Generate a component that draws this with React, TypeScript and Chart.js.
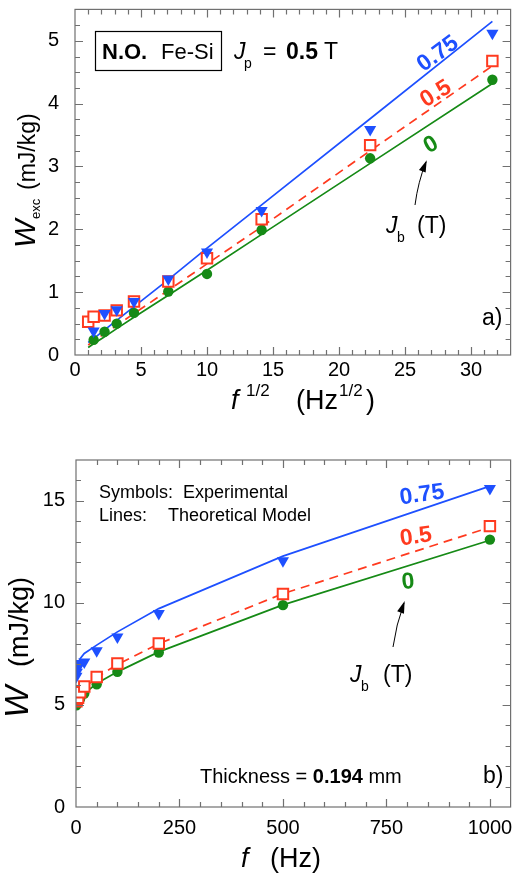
import React, { useEffect, useRef } from "react";
import { Chart, registerables } from "chart.js";

Chart.register(...registerables);

const FONT = "'Liberation Sans', Arial, sans-serif";
const GREEN = "#168a16";
const RED = "#ff3a1f";
const BLUE = "#1e50ff";

// ---------- data: panel a) W_exc vs sqrt(f) ----------
const sqrtFreq = [1, 1.41, 2.24, 3.16, 4.47, 7.07, 10, 14.14, 22.36, 31.62];
const wexcExpJb0 = [null, 0.24, 0.37, 0.5, 0.67, 1.01, 1.29, 1.99, 3.13, 4.38];
const wexcExpJb05 = [0.53, 0.61, 0.63, 0.71, 0.85, 1.17, 1.54, 2.16, 3.34, 4.68];
const wexcExpJb075 = [null, 0.38, 0.66, 0.72, 0.85, 1.21, 1.64, 2.3, 3.59, 5.12];
const wexcModJb0 = [0.12, 0.18, 0.29, 0.42, 0.6, 0.95, 1.35, 1.92, 3.05, 4.32];
const wexcModJb05 = [0.16, 0.22, 0.34, 0.47, 0.66, 1.03, 1.45, 2.04, 3.25, 4.6];
const wexcModJb075 = [0.2, 0.26, 0.4, 0.55, 0.77, 1.2, 1.7, 2.39, 3.76, 5.31];
const xTicksA = [0, 5, 10, 15, 20, 25, 30];
const yTicksA = [0, 1, 2, 3, 4, 5];

// ---------- data: panel b) W vs f ----------
const freqHz = [1, 2, 5, 10, 20, 50, 100, 200, 500, 1000];
const wExpJb0 = [4.98, 5.05, 5.15, 5.3, 5.56, 6.01, 6.62, 7.57, 9.89, 13.1];
const wExpJb05 = [5.18, 5.25, 5.35, 5.62, 5.9, 6.37, 7.03, 8.01, 10.43, 13.76];
const wExpJb075 = [6.4, 6.6, 6.85, 7.03, 7.1, 7.65, 8.33, 9.48, 12.06, 15.6];
const wModJb0 = [4.98, 5.05, 5.15, 5.3, 5.55, 6.05, 6.62, 7.6, 9.9, 13.07];
const wModJb05 = [5.2, 5.28, 5.4, 5.6, 5.85, 6.35, 6.98, 8.0, 10.45, 13.7];
const wModJb075 = [6.46, 6.62, 6.95, 7.27, 7.52, 7.93, 8.58, 9.72, 12.29, 15.72];
const xTicksB = [0, 250, 500, 750, 1000];
const yTicksB = [0, 5, 10, 15];

function pts(xs: number[], ys: (number | null)[]) {
  const out: { x: number; y: number }[] = [];
  xs.forEach((x, i) => {
    const y = ys[i];
    if (y !== null && y !== undefined) out.push({ x, y });
  });
  return out;
}

function datasets(xs: number[], e0: any[], e05: any[], e075: any[], m0: any[], m05: any[], m075: any[]) {
  const line = (data: any, color: string, dash: number[]) => ({
    data,
    showLine: true,
    borderColor: color,
    borderWidth: 1.7,
    borderDash: dash,
    pointRadius: 0,
    fill: false,
    order: 10,
  });
  return [
    line(pts(xs, m0), GREEN, []),
    line(pts(xs, m05), RED, [9, 6]),
    line(pts(xs, m075), BLUE, []),
    {
      data: pts(xs, e0),
      pointStyle: "circle",
      pointRadius: 5.2,
      backgroundColor: GREEN,
      borderColor: GREEN,
      borderWidth: 0,
      order: 3,
    },
    {
      data: pts(xs, e05),
      pointStyle: "rect",
      pointRadius: 7.4,
      backgroundColor: "#ffffff",
      borderColor: RED,
      borderWidth: 2,
      order: 2,
    },
    {
      data: pts(xs, e075),
      pointStyle: "triangle",
      rotation: 180,
      pointRadius: 7,
      backgroundColor: BLUE,
      borderColor: BLUE,
      borderWidth: 0,
      order: 1,
    },
  ];
}

type Part = { t: string; x: number; y: number; font: string; color?: string };
function drawParts(ctx: CanvasRenderingContext2D, parts: Part[]) {
  ctx.textAlign = "left";
  ctx.textBaseline = "alphabetic";
  for (const p of parts) {
    ctx.font = p.font;
    ctx.fillStyle = p.color || "#000";
    ctx.fillText(p.t, p.x, p.y);
  }
}

function rotLabel(ctx: CanvasRenderingContext2D, t: string, x: number, y: number, deg: number, color: string) {
  ctx.save();
  ctx.translate(x, y);
  ctx.rotate((deg * Math.PI) / 180);
  ctx.font = `bold 23px ${FONT}`;
  ctx.fillStyle = color;
  ctx.textAlign = "center";
  ctx.textBaseline = "middle";
  ctx.fillText(t, 0, 0);
  ctx.restore();
}

function arrow(ctx: CanvasRenderingContext2D, x0: number, y0: number, cx: number, cy: number, x1: number, y1: number) {
  ctx.save();
  ctx.strokeStyle = "#000";
  ctx.fillStyle = "#000";
  ctx.lineWidth = 1;
  ctx.beginPath();
  ctx.moveTo(x0, y0);
  ctx.quadraticCurveTo(cx, cy, x1, y1);
  ctx.stroke();
  const a = Math.atan2(y1 - cy, x1 - cx);
  const L = 10, W = 3.6;
  ctx.beginPath();
  ctx.moveTo(x1 + Math.cos(a) * 2, y1 + Math.sin(a) * 2);
  ctx.lineTo(x1 - Math.cos(a) * L - Math.sin(a) * W, y1 - Math.sin(a) * L + Math.cos(a) * W);
  ctx.lineTo(x1 - Math.cos(a) * L + Math.sin(a) * W, y1 - Math.sin(a) * L - Math.cos(a) * W);
  ctx.closePath();
  ctx.fill();
  ctx.restore();
}

function yTitle(ctx: CanvasRenderingContext2D, bx: number, by: number, parts: { t: string; x: number; dy: number; font: string }[]) {
  ctx.save();
  ctx.translate(bx, by);
  ctx.rotate(-Math.PI / 2);
  ctx.fillStyle = "#000";
  ctx.textAlign = "left";
  ctx.textBaseline = "alphabetic";
  for (const p of parts) {
    ctx.font = p.font;
    ctx.fillText(p.t, p.x, p.dy);
  }
  ctx.restore();
}

function framePlugin(minorX: number, majorX: number, minorY: number, majorY: number) {
  return {
    id: "frameTicks",
    afterDraw(chart: any) {
      const { ctx, chartArea } = chart;
      const { left, right, top, bottom } = chartArea;
      const sx = chart.scales.x, sy = chart.scales.y;
      ctx.save();
      ctx.strokeStyle = "#707070";
      ctx.lineWidth = 1.2;
      ctx.strokeRect(left, top, right - left, bottom - top);
      ctx.beginPath();
      const nx = Math.round((sx.max - sx.min) / minorX);
      for (let i = 1; i <= nx; i++) {
        const v = sx.min + i * minorX;
        if (v >= sx.max) break;
        const major = Math.abs(v / majorX - Math.round(v / majorX)) < 1e-6;
        const len = major ? 8 : 5;
        const px = Math.round(sx.getPixelForValue(v)) + 0.5;
        ctx.moveTo(px, bottom);
        ctx.lineTo(px, bottom - len);
        ctx.moveTo(px, top);
        ctx.lineTo(px, top + len);
      }
      const ny = Math.round((sy.max - sy.min) / minorY);
      for (let i = 1; i <= ny; i++) {
        const v = sy.min + i * minorY;
        if (v >= sy.max - 1e-9) break;
        const major = Math.abs(v / majorY - Math.round(v / majorY)) < 1e-6;
        const len = major ? 8 : 5;
        const py = Math.round(sy.getPixelForValue(v)) + 0.5;
        ctx.moveTo(left, py);
        ctx.lineTo(left + len, py);
        ctx.moveTo(right, py);
        ctx.lineTo(right - len, py);
      }
      ctx.stroke();
      ctx.restore();
    },
  };
}

function makeOptions(c: {
  xmin: number; xmax: number; ymin: number; ymax: number;
  xTicks: number[]; yTicks: number[];
  padding: any; yWidth: number; xHeight: number; xPad: number; yPad: number;
}) {
  const tickFont = { family: FONT, size: 20 };
  return {
    responsive: false,
    maintainAspectRatio: false,
    animation: false,
    devicePixelRatio: 1,
    events: [],
    layout: { padding: c.padding },
    plugins: { legend: { display: false }, tooltip: { enabled: false } },
    scales: {
      x: {
        type: "linear",
        min: c.xmin,
        max: c.xmax,
        grid: { display: false, drawTicks: false },
        border: { display: false },
        ticks: { font: tickFont, color: "#000", padding: c.xPad, maxRotation: 0, autoSkip: false, callback: (v: any) => String(v) },
        afterBuildTicks: (s: any) => { s.ticks = c.xTicks.map((v) => ({ value: v })); },
        afterFit: (s: any) => { s.height = c.xHeight; s.paddingLeft = 0; s.paddingRight = 0; },
      },
      y: {
        type: "linear",
        min: c.ymin,
        max: c.ymax,
        grid: { display: false, drawTicks: false },
        border: { display: false },
        ticks: { font: tickFont, color: "#000", padding: c.yPad, autoSkip: false, callback: (v: any) => String(v) },
        afterBuildTicks: (s: any) => { s.ticks = c.yTicks.map((v) => ({ value: v })); },
        afterFit: (s: any) => { s.width = c.yWidth; s.paddingTop = 0; s.paddingBottom = 0; },
      },
    },
  };
}

const annotA = {
  id: "annotA",
  afterDraw(chart: any) {
    const ctx: CanvasRenderingContext2D = chart.ctx;
    ctx.save();
    ctx.strokeStyle = "#000";
    ctx.lineWidth = 1.2;
    ctx.strokeRect(95.5, 31.5, 126, 39);
    drawParts(ctx, [
      { t: "N.O.", x: 102, y: 59, font: `bold 22px ${FONT}` },
      { t: "Fe-Si", x: 161, y: 59, font: `22px ${FONT}` },
      { t: "J", x: 234, y: 59, font: `italic 23px ${FONT}` },
      { t: "p", x: 244, y: 68, font: `14px ${FONT}` },
      { t: "=", x: 263, y: 59, font: `23px ${FONT}` },
      { t: "0.5", x: 286, y: 59, font: `bold 23px ${FONT}` },
      { t: "T", x: 324, y: 59, font: `23px ${FONT}` },
      { t: "J", x: 386, y: 233, font: `italic 23px ${FONT}` },
      { t: "b", x: 397, y: 242, font: `14px ${FONT}` },
      { t: "(T)", x: 417, y: 233, font: `23px ${FONT}` },
      { t: "a)", x: 482, y: 325, font: `23px ${FONT}` },
      { t: "f", x: 231, y: 409, font: `italic 27px ${FONT}` },
      { t: "1/2", x: 246, y: 396, font: `17px ${FONT}` },
      { t: "(Hz", x: 296, y: 409, font: `27px ${FONT}` },
      { t: "1/2", x: 339, y: 396, font: `17px ${FONT}` },
      { t: ")", x: 366, y: 409, font: `27px ${FONT}` },
    ]);
    rotLabel(ctx, "0.75", 438, 54, -36, BLUE);
    rotLabel(ctx, "0.5", 436, 94, -32, RED);
    rotLabel(ctx, "0", 431, 145, -30, GREEN);
    arrow(ctx, 415, 205, 418, 182, 426, 162);
    yTitle(ctx, 35, 248, [
      { t: "W", x: 0, dy: 0, font: `italic 30px ${FONT}` },
      { t: "exc", x: 29, dy: 5, font: `13px ${FONT}` },
      { t: "(mJ/kg)", x: 58, dy: 0, font: `23px ${FONT}` },
    ]);
    ctx.restore();
  },
};

const annotB = {
  id: "annotB",
  afterDraw(chart: any) {
    const ctx: CanvasRenderingContext2D = chart.ctx;
    ctx.save();
    drawParts(ctx, [
      { t: "Symbols:  Experimental", x: 99, y: 68, font: `18px ${FONT}` },
      { t: "Lines:", x: 99, y: 91, font: `18px ${FONT}` },
      { t: "Theoretical Model", x: 168, y: 91, font: `18px ${FONT}` },
      { t: "J", x: 350, y: 252, font: `italic 23px ${FONT}` },
      { t: "b", x: 361, y: 261, font: `14px ${FONT}` },
      { t: "(T)", x: 383, y: 252, font: `23px ${FONT}` },
      { t: "b)", x: 483, y: 353, font: `23px ${FONT}` },
      { t: "f", x: 241, y: 437, font: `italic 27px ${FONT}` },
      { t: "(Hz)", x: 270, y: 437, font: `27px ${FONT}` },
    ]);
    ctx.fillStyle = "#000";
    ctx.textAlign = "left";
    let x = 200;
    const segs: [string, string][] = [
      ["Thickness = ", `20px ${FONT}`],
      ["0.194", `bold 20px ${FONT}`],
      [" mm", `20px ${FONT}`],
    ];
    for (const [t, f] of segs) {
      ctx.font = f;
      ctx.fillText(t, x, 353);
      x += ctx.measureText(t).width;
    }
    rotLabel(ctx, "0.75", 422, 65, -8, BLUE);
    rotLabel(ctx, "0.5", 416, 107, -8, RED);
    rotLabel(ctx, "0", 408, 152, -5, GREEN);
    arrow(ctx, 393, 217, 396, 195, 404, 173);
    yTitle(ctx, 28, 288, [
      { t: "W", x: 0, dy: 0, font: `italic 34px ${FONT}` },
      { t: "(mJ/kg)", x: 51, dy: 0, font: `27px ${FONT}` },
    ]);
    ctx.restore();
  },
};

export default function App() {
  const refA = useRef<HTMLCanvasElement | null>(null);
  const refB = useRef<HTMLCanvasElement | null>(null);

  useEffect(() => {
    const chartA = new Chart(refA.current as HTMLCanvasElement, {
      type: "scatter",
      data: { datasets: datasets(sqrtFreq, wexcExpJb0, wexcExpJb05, wexcExpJb075, wexcModJb0, wexcModJb05, wexcModJb075) as any },
      options: makeOptions({
        xmin: 0, xmax: 33, ymin: 0, ymax: 5.5,
        xTicks: xTicksA, yTicks: yTicksA,
        padding: { left: 0, right: 3, top: 8, bottom: 0 },
        yWidth: 75, xHeight: 75, xPad: 3, yPad: 16,
      }) as any,
      plugins: [framePlugin(1, 5, 0.25, 1), annotA],
    });
    const chartB = new Chart(refB.current as HTMLCanvasElement, {
      type: "scatter",
      data: { datasets: datasets(freqHz, wExpJb0, wExpJb05, wExpJb075, wModJb0, wModJb05, wModJb075) as any },
      options: makeOptions({
        xmin: 0, xmax: 1050, ymin: 0, ymax: 17,
        xTicks: xTicksB, yTicks: yTicksB,
        padding: { left: 0, right: 2, top: 30, bottom: 0 },
        yWidth: 76, xHeight: 71, xPad: 9, yPad: 11,
      }) as any,
      plugins: [framePlugin(50, 250, 1, 5), annotB],
    });
    return () => {
      chartA.destroy();
      chartB.destroy();
    };
  }, []);

  return (
    <div style={{ position: "absolute", left: 0, top: 0, width: 520, height: 878, background: "#fff" }}>
      <canvas ref={refA} width={520} height={430} style={{ position: "absolute", left: 0, top: 0, width: 520, height: 430 }} />
      <canvas ref={refB} width={520} height={448} style={{ position: "absolute", left: 0, top: 430, width: 520, height: 448 }} />
    </div>
  );
}
